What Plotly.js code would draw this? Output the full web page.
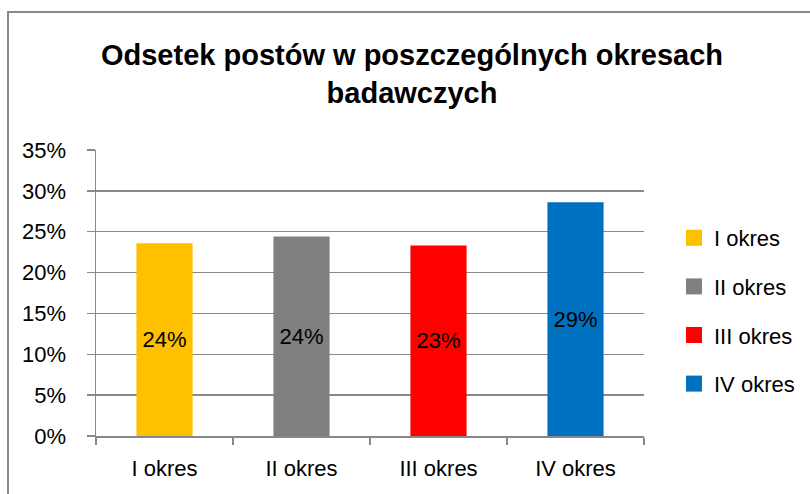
<!DOCTYPE html>
<html>
<head>
<meta charset="utf-8">
<script src="https://cdn.plot.ly/plotly-3.0.1.min.js"></script>
<style>
  html, body { margin: 0; padding: 0; background: #fff; overflow: hidden; }
  #wrap { position: relative; width: 810px; height: 494px; }
  #chart { position: absolute; left: 0; top: 0; width: 810px; height: 494px; }
  #frame { position: absolute; left: 7px; top: 11px; width: 900px; height: 600px;
           border: 2px solid #898989; pointer-events: none; }
</style>
</head>
<body>
<div id="wrap">
  <div id="chart"></div>
  <div id="frame"></div>
</div>
<script>
const categories = ["I okres", "II okres", "III okres", "IV okres"];
const values = [0.236, 0.244, 0.233, 0.286];
const labels = ["24%", "24%", "23%", "29%"];
const colors = ["#FFC000", "#808080", "#FF0000", "#0070C0"];
const yTickVals = [0, 0.05, 0.10, 0.15, 0.20, 0.25, 0.30, 0.35];
const yTickText = ["0%", "5%", "10%", "15%", "20%", "25%", "30%", "35%"];

const FONT = "'Liberation Sans', Arial, sans-serif";

const traces = [{
  type: "bar",
  x: categories,
  y: values,
  width: 0.41,
  marker: { color: colors, line: { width: 0 } },
  text: labels,
  textposition: "inside",
  insidetextanchor: "middle",
  textangle: 0,
  constraintext: "none",
  textfont: { family: FONT, size: 22, color: "#000" },
  hoverinfo: "x+y",
  showlegend: false
}];

categories.forEach((c, i) => {
  traces.push({
    type: "scatter",
    mode: "markers",
    x: [null],
    y: [null],
    name: c,
    legendgroup: "g" + i,
    marker: { symbol: "square", size: 16, color: colors[i] },
    showlegend: true,
    hoverinfo: "skip"
  });
});

const layout = {
  width: 810,
  height: 494,
  margin: { l: 96, r: 166, t: 150, b: 58 },
  paper_bgcolor: "rgba(0,0,0,0)",
  plot_bgcolor: "rgba(0,0,0,0)",
  font: { family: FONT, size: 22, color: "#000" },
  title: {
    text: "Odsetek postów w poszczególnych okresach<br>badawczych",
    font: { family: FONT, size: 29, color: "#000", weight: "bold" },
    x: 412 / 810,
    xanchor: "center",
    xref: "container",
    y: 1 - 65 / 494,
    yanchor: "top",
    yref: "container"
  },
  barmode: "overlay",
  xaxis: {
    type: "category",
    range: [-0.5, 3.5],
    showline: true,
    linecolor: "#898989",
    linewidth: 1.5,
    ticks: "outside",
    tickson: "boundaries",
    ticklen: 7,
    tickcolor: "#898989",
    tickwidth: 1.5,
    showgrid: false,
    ticklabelstandoff: 12,
    tickfont: { family: FONT, size: 22, color: "#000" },
    fixedrange: true
  },
  yaxis: {
    range: [0, 0.35],
    tickvals: yTickVals,
    ticktext: yTickText,
    showline: true,
    linecolor: "#898989",
    linewidth: 1.5,
    ticks: "outside",
    ticklen: 8,
    tickcolor: "#898989",
    tickwidth: 1.5,
    showgrid: true,
    gridcolor: "#898989",
    gridwidth: 1.5,
    zeroline: false,
    ticklabelstandoff: 16,
    tickfont: { family: FONT, size: 22, color: "#000" },
    fixedrange: true
  },
  legend: {
    xref: "container",
    yref: "container",
    x: 674 / 810,
    xanchor: "left",
    y: 1 - 311 / 494,
    yanchor: "middle",
    traceorder: "grouped",
    tracegroupgap: 17,
    itemwidth: 30,
    font: { family: FONT, size: 22, color: "#000" },
    bgcolor: "rgba(0,0,0,0)",
    borderwidth: 0
  },
  showlegend: true
};

Plotly.newPlot("chart", traces, layout, { displayModeBar: false, staticPlot: true });
</script>
</body>
</html>
